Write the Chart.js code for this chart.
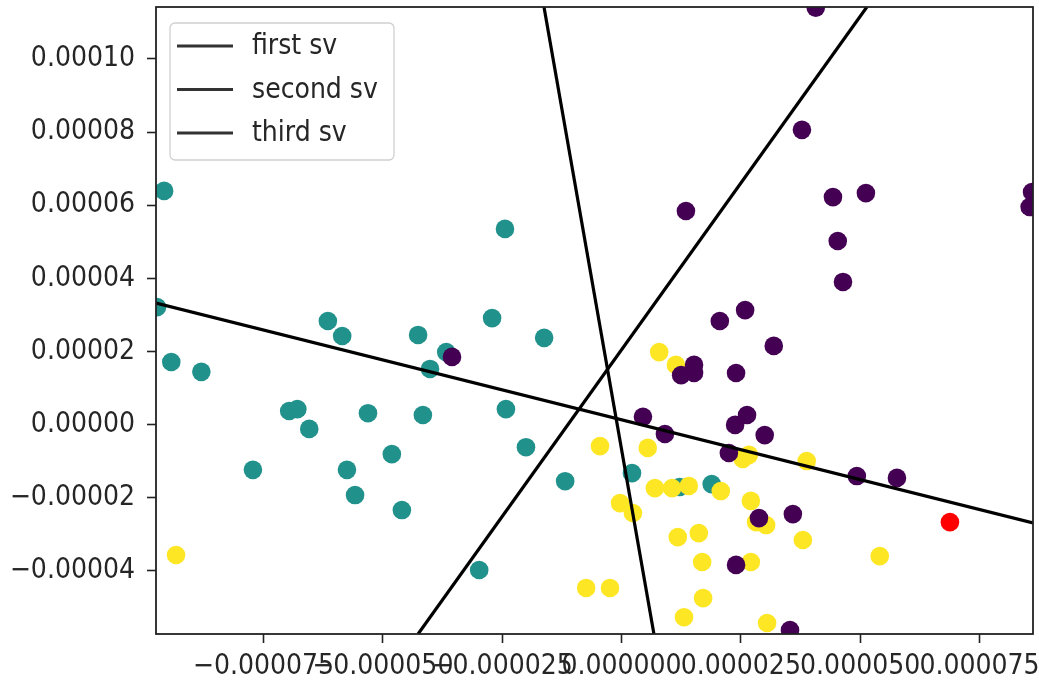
<!DOCTYPE html>
<html>
<head>
<meta charset="utf-8">
<title>singular vectors</title>
<script src="https://cdn.jsdelivr.net/npm/chart.js@4.4.0/dist/chart.umd.min.js"></script>
<style>
  html, body { margin: 0; padding: 0; background: #fff; }
</style>
</head>
<body>
<canvas id="chart" width="1039" height="681"></canvas>
<script>
const FONT = '"DejaVu Sans Condensed", "DejaVu Sans", sans-serif';
const FONT_SIZE = 28;
const TEXT_COLOR = '#262626';

// axis range and ticks
const xRange = [-0.0000975, 0.0000862];
const yRange = [-0.0000573, 0.0001142];
const xTicks = [-0.000075, -0.00005, -0.000025, 0, 0.000025, 0.00005, 0.000075];
const yTicks = [-0.00004, -0.00002, 0, 0.00002, 0.00004, 0.00006, 0.00008, 0.0001];

// points, in units of 1e-5
const tealX = [-9.58, -9.73, -9.43, -8.80, -6.15, -5.85, -4.26, -4.01, -3.67, -2.71, -2.44, -1.62,
               -6.96, -6.79, -6.54, -5.31, -4.16, -2.42, -7.72, -5.75, -5.58, -4.81, -4.60,
               -2.00, -1.18, -2.98, 0.22, 1.22, 1.89];
const tealY = [6.39, 3.21, 1.71, 1.44, 2.83, 2.42, 2.45, 1.52, 1.98, 2.91, 5.35, 2.37,
               0.37, 0.42, -0.12, 0.31, 0.26, 0.42, -1.24, -1.24, -1.93, -0.81, -2.34,
               -0.62, -1.55, -3.98, -1.33, -1.71, -1.63];

const yellowX = [-9.33, 0.79, 1.14, -0.45, 0.55, 2.54, 2.67, 3.88, 0.70, 1.06, 1.41, 2.08, 2.71,
                 2.82, 3.03, -0.03, 0.24, 1.18, 1.62, 3.80, 5.41, 1.69, 2.71, -0.74, -0.24,
                 1.71, 1.31, 3.05];
const yellowY = [-3.57, 1.98, 1.63, -0.59, -0.64, -0.94, -0.83, -1.00, -1.74, -1.74, -1.68, -1.82, -2.09,
                 -2.67, -2.75, -2.15, -2.42, -3.08, -2.97, -3.16, -3.60, -3.76, -3.76, -4.47, -4.47,
                 -4.75, -5.27, -5.43];

const purpleX = [-3.55, 1.35, 2.06, 2.59, 3.19, 3.78, 4.07, 4.43, 5.12, 4.53, 4.64, 8.60, 8.55,
                 1.25, 1.52, 1.52, 2.40, 0.45, 0.91, 2.38, 2.63, 3.00, 2.25, 4.93, 5.77,
                 2.88, 3.59, 2.40, 3.53];
const purpleY = [1.85, 5.84, 2.83, 3.13, 2.15, 8.06, 11.40, 6.22, 6.33, 5.02, 3.90, 6.36, 5.95,
                 1.35, 1.63, 1.41, 1.41, 0.21, -0.26, -0.01, 0.26, -0.29, -0.78, -1.41, -1.46,
                 -2.56, -2.45, -3.84, -5.62];

const redX = [6.88];
const redY = [-2.67];

// the three singular vector lines, endpoints in data units
const svLabels = ['first sv', 'second sv', 'third sv'];
const svX = [[-0.0000975, 0.0000862], [-0.00001623, 0.0000068], [-0.0000426, 0.0000514]];
const svY = [[0.0000332, -0.0000269], [0.0001142, -0.0000573], [-0.0000573, 0.0001142]];

function toPoints(xs, ys) {
    return xs.map((x, i) => ({ x: x * 1e-5, y: ys[i] * 1e-5 }));
}

function fmtTick(v, digits) {
    const s = Math.abs(v).toFixed(digits);
    return v < 0 ? '\u2212' + s : s;
}

function scatterSet(label, xs, ys, color, order) {
    return {
        type: 'scatter',
        label: label,
        data: toPoints(xs, ys),
        backgroundColor: color,
        borderWidth: 0,
        pointRadius: 9.3,
        order: order,
        clip: 0
    };
}

const lineSets = svLabels.map((label, i) => ({
    type: 'line',
    label: label,
    data: svX[i].map((x, j) => ({ x: x, y: svY[i][j] })),
    borderColor: '#000000',
    borderWidth: 3.2,
    pointRadius: 0,
    fill: false,
    order: 0,
    clip: 0
}));

// keep the plot area fixed: no extra room for overhanging edge labels
function fixPadding(axis) {
    axis.paddingLeft = 0;
    axis.paddingRight = 0;
    axis.paddingTop = 0;
    axis.paddingBottom = 0;
}

// frame on all four sides plus a boxed legend for the sv lines
const frameAndLegend = {
    id: 'frameAndLegend',
    afterDraw(chart) {
        const ctx = chart.ctx;
        const a = chart.chartArea;
        ctx.save();
        ctx.strokeStyle = '#222';
        ctx.lineWidth = 1.8;
        ctx.strokeRect(a.left, a.top, a.right - a.left, a.bottom - a.top);

        const x0 = a.left + 14, y0 = a.top + 16, w = 224, h = 137;
        ctx.beginPath();
        ctx.roundRect(x0, y0, w, h, 5);
        ctx.fillStyle = 'rgba(255,255,255,0.8)';
        ctx.fill();
        ctx.strokeStyle = '#d0d0d0';
        ctx.lineWidth = 1.3;
        ctx.stroke();

        ctx.font = FONT_SIZE + 'px ' + FONT;
        ctx.textBaseline = 'middle';
        ctx.fillStyle = TEXT_COLOR;
        chart.data.datasets.filter(d => d.type === 'line').forEach((d, i) => {
            const y = y0 + 23 + i * 43.5;
            ctx.strokeStyle = '#333';
            ctx.lineWidth = d.borderWidth;
            ctx.beginPath();
            ctx.moveTo(x0 + 7, y);
            ctx.lineTo(x0 + 63, y);
            ctx.stroke();
            ctx.fillText(d.label, x0 + 82, y + 1);
        });
        ctx.restore();
    }
};

new Chart(document.getElementById('chart'), {
    type: 'scatter',
    data: {
        datasets: [
            ...lineSets,
            scatterSet('red', redX, redY, '#ff0000', 1),
            scatterSet('class 0', purpleX, purpleY, '#440154', 2),
            scatterSet('class 2', yellowX, yellowY, '#fde725', 3),
            scatterSet('class 1', tealX, tealY, '#21918c', 4)
        ]
    },
    options: {
        responsive: false,
        animation: false,
        layout: { autoPadding: false, padding: { top: 7, right: 6, left: 0, bottom: 0 } },
        plugins: {
            legend: { display: false },
            tooltip: { enabled: false }
        },
        scales: {
            x: {
                type: 'linear',
                min: xRange[0],
                max: xRange[1],
                afterBuildTicks: axis => { axis.ticks = xTicks.map(v => ({ value: v })); },
                afterFit: axis => { axis.height = 47; fixPadding(axis); },
                border: { display: false },
                grid: { drawOnChartArea: false, drawTicks: true, tickLength: 9, tickColor: '#222', tickWidth: 1.6 },
                ticks: {
                    autoSkip: false, maxRotation: 0, minRotation: 0, padding: 7,
                    color: TEXT_COLOR, font: { family: FONT, size: FONT_SIZE },
                    callback: v => fmtTick(v, 6)
                }
            },
            y: {
                type: 'linear',
                min: yRange[0],
                max: yRange[1],
                afterBuildTicks: axis => { axis.ticks = yTicks.map(v => ({ value: v })); },
                afterFit: axis => { axis.width = 156; fixPadding(axis); },
                border: { display: false },
                grid: { drawOnChartArea: false, drawTicks: true, tickLength: 9, tickColor: '#222', tickWidth: 1.6 },
                ticks: {
                    autoSkip: false, padding: 12,
                    color: TEXT_COLOR, font: { family: FONT, size: FONT_SIZE },
                    callback: v => fmtTick(v, 5)
                }
            }
        }
    },
    plugins: [frameAndLegend]
});
</script>
</body>
</html>
